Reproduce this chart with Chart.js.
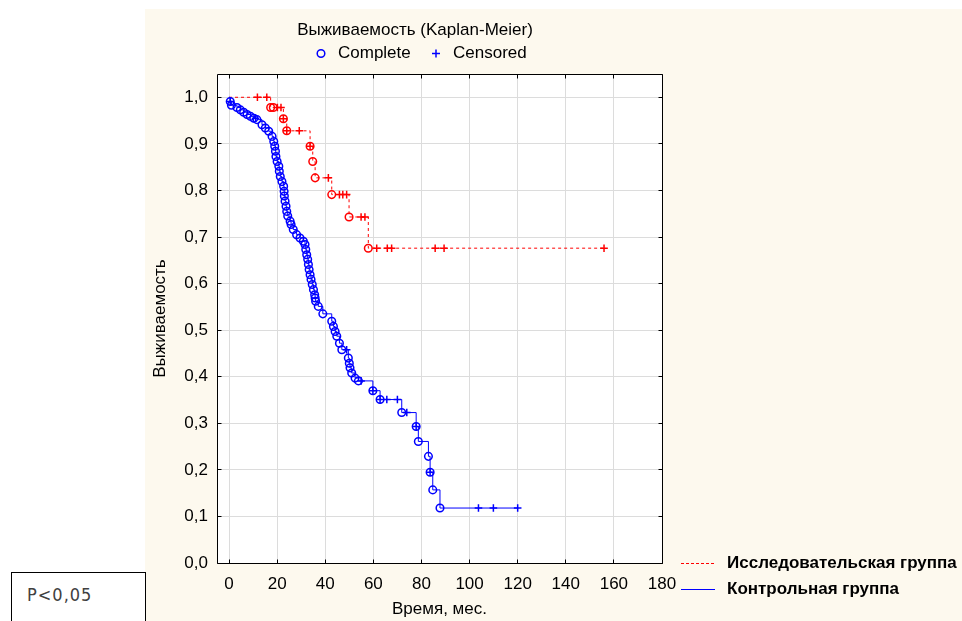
<!DOCTYPE html>
<html><head><meta charset="utf-8">
<script src="https://cdn.jsdelivr.net/npm/chart.js@4.4.1/dist/chart.umd.min.js"></script>
<style>
html,body{margin:0;padding:0;background:#fff;width:962px;height:621px;overflow:hidden;font-family:Arial,"Liberation Sans",sans-serif;}
#panel{position:absolute;left:145px;top:9px;width:817px;height:612px;background:#fdf9ee;}
#c{position:absolute;left:0;top:0;}
.t{position:absolute;white-space:nowrap;font-size:17px;line-height:20px;color:#000;}
#pbox{position:absolute;left:11px;top:572px;width:133px;height:80px;border:1px solid #000;background:#fff;}
#ptxt{position:absolute;left:15px;top:11px;font-family:"DejaVu Sans Condensed","DejaVu Sans",sans-serif;font-size:18px;letter-spacing:1px;color:#404040;white-space:nowrap;}
svg{position:absolute;left:0;top:0;}
#lgRed{position:absolute;left:681px;top:563px;width:34px;height:1px;background:repeating-linear-gradient(to right,#ff0000 0px,#ff0000 3px,transparent 3px,transparent 5px);}
#lgBlue{position:absolute;left:681px;top:589px;width:34px;height:1px;background:#0000ff;}
</style></head>
<body>
<div id="panel"><canvas id="c" width="817" height="612"></canvas></div>
<div id="pbox"><div id="ptxt">P&lt;0,05</div></div>
<div class="t" style="left:0;width:830px;text-align:center;top:20px">Выживаемость (Kaplan-Meier)</div>
<div class="t" style="left:338px;top:43px">Complete</div>
<div class="t" style="left:453px;top:43px">Censored</div>
<div class="t" style="left:727px;top:553px;font-weight:bold">Исследовательская группа</div>
<div class="t" style="left:727px;top:579px;font-weight:bold">Контрольная группа</div>
<div id="lgRed"></div>
<div id="lgBlue"></div>
<svg width="962" height="621">
  <circle cx="321" cy="53.5" r="3.8" fill="none" stroke="#0000ff" stroke-width="1.5"/>
  <line x1="432" y1="53.5" x2="440" y2="53.5" stroke="#0000ff" stroke-width="1.5"/>
  <line x1="436" y1="49.5" x2="436" y2="57.5" stroke="#0000ff" stroke-width="1.5"/>
</svg>
<script>
// Axis ticks
const xTicks = [0, 20, 40, 60, 80, 100, 120, 140, 160, 180];
const yTicks = [0, 0.1, 0.2, 0.3, 0.4, 0.5, 0.6, 0.7, 0.8, 0.9, 1.0];

// Status: 1 = complete (death), 0 = censored, -1 = curve start
// Исследовательская группа (red)
const redTimes  = [0, 11.8, 15.7, 17.3, 18.4, 20.1, 21.6, 22.6, 22.6, 24.0, 24.0, 29.2, 33.7, 33.7, 34.8, 35.8, 41.3, 42.7, 45.9, 47.3, 48.9, 49.9, 54.9, 56.5, 57.9, 61.4, 65.8, 67.6, 85.7, 89.4, 155.9];
const redSurv   = [1.0, 1.0, 1.0, 0.978, 0.978, 0.978, 0.978, 0.954, 0.954, 0.928, 0.928, 0.928, 0.895, 0.895, 0.862, 0.827, 0.827, 0.791, 0.791, 0.791, 0.791, 0.743, 0.743, 0.743, 0.676, 0.676, 0.676, 0.676, 0.676, 0.676, 0.676];
const redStatus = [-1, 0, 0, 1, 1, 0, 0, 1, 0, 1, 0, 0, 1, 0, 1, 1, 0, 1, 0, 0, 0, 1, 0, 0, 1, 0, 0, 0, 0, 0, 0];

// Контрольная группа (blue)
const blueTimes  = [0, 0.5, 0.5, 1.0, 3.3, 4.7, 6.1, 7.5, 8.9, 10.3, 11.0, 11.6, 13.7, 15.1, 16.5, 17.9, 18.6, 19.0, 19.3, 19.5, 20.0, 20.7, 20.9, 21.3, 22.0, 22.7, 22.9, 23.0, 23.3, 23.7, 24.0, 24.4, 25.4, 25.8, 26.7, 28.1, 29.5, 30.9, 31.6, 31.9, 32.3, 32.7, 33.0, 33.3, 33.7, 34.1, 34.6, 35.1, 35.6, 35.8, 36.0, 37.1, 39.0, 42.7, 43.4, 44.1, 44.8, 45.9, 46.9, 48.9, 49.6, 50.0, 50.3, 51.0, 52.4, 53.8, 54.9, 59.8, 59.8, 62.8, 62.8, 65.6, 70.0, 71.8, 73.9, 77.8, 77.8, 78.7, 82.9, 83.6, 83.6, 84.7, 87.7, 103.7, 109.9, 120.0];
const blueSurv   = [1.0, 0.991, 0.991, 0.983, 0.978, 0.973, 0.968, 0.963, 0.959, 0.955, 0.955, 0.952, 0.941, 0.934, 0.927, 0.916, 0.905, 0.895, 0.884, 0.873, 0.862, 0.852, 0.841, 0.830, 0.819, 0.809, 0.798, 0.788, 0.777, 0.766, 0.755, 0.745, 0.734, 0.727, 0.716, 0.705, 0.698, 0.691, 0.684, 0.673, 0.662, 0.652, 0.641, 0.630, 0.619, 0.609, 0.598, 0.587, 0.576, 0.569, 0.562, 0.551, 0.535, 0.519, 0.508, 0.497, 0.487, 0.472, 0.458, 0.458, 0.440, 0.429, 0.419, 0.408, 0.397, 0.391, 0.391, 0.370, 0.370, 0.351, 0.351, 0.351, 0.351, 0.323, 0.323, 0.293, 0.293, 0.261, 0.229, 0.195, 0.195, 0.157, 0.118, 0.118, 0.118, 0.118];
const blueStatus = [-1, 1, 0, 1, 1, 1, 1, 1, 1, 1, 0, 1, 1, 1, 1, 1, 1, 1, 1, 1, 1, 1, 1, 1, 1, 1, 1, 1, 1, 1, 1, 1, 1, 1, 1, 1, 1, 1, 1, 1, 1, 1, 1, 1, 1, 1, 1, 1, 1, 1, 1, 1, 1, 1, 1, 1, 1, 1, 1, 0, 1, 1, 1, 1, 1, 1, 0, 1, 0, 1, 0, 0, 0, 1, 0, 1, 0, 1, 1, 1, 0, 1, 1, 0, 0, 0];

const RED = '#ff0000', BLUE = '#0000ff';

function makeDataset(label, times, surv, status, color, dash) {
  return {
    label: label,
    data: times.map((t, i) => ({x: t, y: surv[i]})),
    stepped: true,
    borderColor: color,
    borderWidth: 1,
    borderDash: dash,
    fill: false,
    pointStyle: status.map(s => s === 0 ? 'cross' : 'circle'),
    pointRadius: status.map(s => s === -1 ? 0 : 3.8),
    pointBorderWidth: 1.5,
    pointBorderColor: color,
    pointBackgroundColor: 'rgba(0,0,0,0)',
    pointHoverRadius: 0
  };
}

function alignPx(p) { return Math.round(p - 0.5) + 0.5; }

const framePlugin = {
  id: 'frame',
  beforeDraw(chart) {
    const {ctx, chartArea: a} = chart;
    ctx.save();
    ctx.fillStyle = '#ffffff';
    ctx.fillRect(a.left, a.top, a.right - a.left, a.bottom - a.top);
    ctx.restore();
  },
  afterDraw(chart) {
    const {ctx, chartArea: a, scales} = chart;
    const L = alignPx(a.left), R = alignPx(a.right), T = alignPx(a.top), B = alignPx(a.bottom);
    ctx.save();
    ctx.strokeStyle = '#000';
    ctx.lineWidth = 1;
    ctx.beginPath();
    ctx.rect(L, T, R - L, B - T);
    xTicks.forEach(v => {
      const px = alignPx(scales.x.getPixelForValue(v));
      ctx.moveTo(px, B); ctx.lineTo(px, B - 4);
      ctx.moveTo(px, T); ctx.lineTo(px, T + 4);
    });
    yTicks.forEach(v => {
      const py = alignPx(scales.y.getPixelForValue(v));
      ctx.moveTo(L, py); ctx.lineTo(L + 4, py);
      ctx.moveTo(R, py); ctx.lineTo(R - 4, py);
    });
    ctx.stroke();
    ctx.restore();
  }
};

Chart.defaults.font.family = 'Arial, "Liberation Sans", sans-serif';
Chart.defaults.font.size = 17;
Chart.defaults.color = '#000';

new Chart(document.getElementById('c'), {
  type: 'line',
  data: {
    datasets: [
      makeDataset('Контрольная группа', blueTimes, blueSurv, blueStatus, BLUE, []),
      makeDataset('Исследовательская группа', redTimes, redSurv, redStatus, RED, [3, 3])
    ]
  },
  options: {
    responsive: false,
    animation: false,
    events: [],
    layout: {padding: {top: 65, right: 300, bottom: 0, left: 0}},
    plugins: {legend: {display: false}, title: {display: false}, tooltip: {enabled: false}},
    scales: {
      x: {
        type: 'linear', min: -5, max: 180,
        afterFit: s => { s.height = 58; },
        afterBuildTicks: s => { s.ticks = xTicks.map(v => ({value: v})); },
        grid: {color: '#dcdcdc', lineWidth: 1, drawTicks: false},
        border: {display: false},
        ticks: {padding: 11, maxRotation: 0, autoSkip: false, callback: v => String(v)},
        title: {display: true, text: 'Время, мес.', padding: {top: 0, bottom: 1}}
      },
      y: {
        type: 'linear', min: 0, max: 1.05,
        afterFit: s => { s.width = 72; },
        afterBuildTicks: s => { s.ticks = yTicks.map(v => ({value: v})); },
        grid: {color: '#dcdcdc', lineWidth: 1, drawTicks: false},
        border: {display: false},
        ticks: {padding: 9, autoSkip: false, callback: v => v.toFixed(1).replace('.', ',')},
        title: {display: true, text: 'Выживаемость', padding: {top: 5, bottom: 0}}
      }
    }
  },
  plugins: [framePlugin]
});
</script>
</body></html>
